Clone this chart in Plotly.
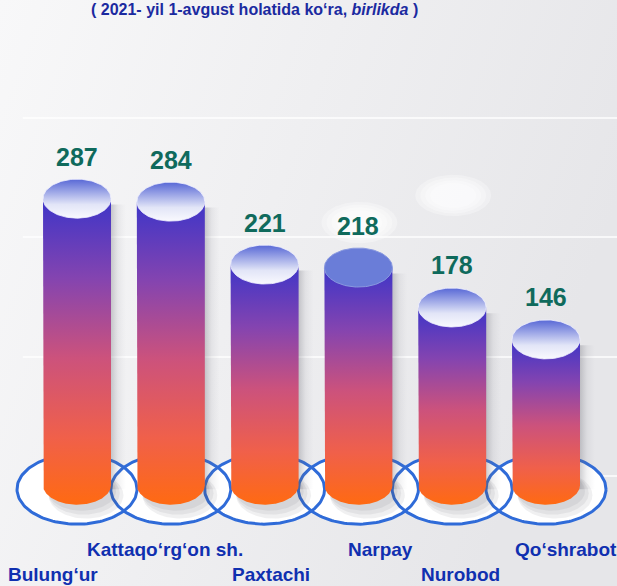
import base64
import numpy as np
import plotly.graph_objects as go

# ---- data -------------------------------------------------------------
districts = ["Bulung‘ur", "Kattaqo‘rg‘on sh.", "Paxtachi", "Narpay", "Nurobod", "Qo‘shrabot"]
counts = [287, 284, 221, 218, 178, 146]
subtitle = "( 2021- yil 1-avgust holatida ko‘ra, <i>birlikda</i> )"

# ---- canvas / scale ---------------------------------------------------
W, H = 617, 586
X_RANGE = (-0.821, 5.757)
Y_RANGE = (-101.0, 486.0)
UX = W / (X_RANGE[1] - X_RANGE[0])   # pixels per category step
UY = H / (Y_RANGE[1] - Y_RANGE[0])   # pixels per unit on the value axis


def dx(p):
    return p / UX


def dy(p):
    return p / UY


BODY_RX = dx(34)
CAP_RY = dy(19.5)
BASE_RX = dx(60)
BASE_RY = dy(35)

FONT = "Liberation Sans Narrow, Arial Narrow, Liberation Sans, Arial, sans-serif"
BODY_SCALE = [[0.0, "#ff6a12"], [0.22, "#f0604a"], [0.48, "#cc527c"],
              [0.74, "#8444b0"], [1.0, "#3d35c8"]]
CAP_SCALE = [[0.0, "#f9f9fe"], [0.35, "#e2e5f7"], [1.0, "#5868d6"]]
HIGHLIGHT = "Narpay"
HIGHLIGHT_CAP = "#6a7dd8"
RING_COLOR = "#2f6bd8"
VALUE_COLOR = "#0f6a5c"
LABEL_COLOR = "#1030b0"
TITLE_COLOR = "#1b2aa0"

# staggered category labels: row (0 = upper, 1 = lower) and small horizontal nudges
label_row = [1, 0, 1, 0, 1, 0]
label_dx = [-24, -6, 6, 22, 8, 20]


def ellipse(cx, cy, rx, ry, t0=0.0, t1=2 * np.pi, n=140):
    t = np.linspace(t0, t1, n)
    return cx + rx * np.cos(t), cy + ry * np.sin(t)


fig = go.Figure()

# faint white glows in the background
for i, lift in [(3, 45), (4, 112)]:
    for s in [1.15, 1.0, 0.85, 0.7]:
        gx, gy = ellipse(i + dx(1), counts[i] + dy(lift), dx(33) * s, dy(18) * s)
        fig.add_trace(go.Scatter(x=gx, y=gy, mode="lines", fill="toself",
                                 fillcolor="rgba(255,255,255,0.3)",
                                 line=dict(width=0), hoverinfo="skip"))

# base rings: white fills first, outlines on top so crossings stay visible
base_y = -dy(4)
for i, _ in enumerate(districts):
    ex, ey = ellipse(i, base_y, BASE_RX, BASE_RY)
    fig.add_trace(go.Scatter(x=ex, y=ey, mode="lines", fill="toself",
                             fillcolor="white", line=dict(width=0),
                             hoverinfo="skip"))
for i, _ in enumerate(districts):
    ex, ey = ellipse(i, base_y, BASE_RX, BASE_RY)
    fig.add_trace(go.Scatter(x=ex, y=ey, mode="lines",
                             line=dict(color=RING_COLOR, width=3),
                             hoverinfo="skip"))

# soft shadows behind each cylinder
for i, v in enumerate(counts):
    for k in range(3):
        sx, sy = ellipse(i + dx(5 + 2 * k), -dy(6 + 2 * k),
                         BODY_RX * (1.0 + 0.05 * k), CAP_RY * (1.0 + 0.1 * k))
        fig.add_trace(go.Scatter(x=sx, y=sy, mode="lines", fill="toself",
                                 fillcolor="rgba(90,90,100,0.09)",
                                 line=dict(width=0), hoverinfo="skip"))
    x0 = i + BODY_RX - dx(1)
    x1 = i + BODY_RX + dx(15)
    fig.add_trace(go.Scatter(
        x=[x0, x1, x1, x0, x0], y=[-dy(4), -dy(4), v - CAP_RY * 0.3, v - CAP_RY * 0.3, -dy(4)],
        mode="lines", fill="toself", line=dict(width=0), hoverinfo="skip",
        fillgradient=dict(type="horizontal", start=x0, stop=x1,
                          colorscale=[[0, "rgba(95,95,105,0.34)"],
                                      [0.5, "rgba(120,120,130,0.10)"],
                                      [1, "rgba(150,150,160,0)"]])))

# cylinder bodies
for i, v in enumerate(counts):
    bx, by = ellipse(i, 0, BODY_RX, CAP_RY, np.pi, 2 * np.pi)
    px = np.concatenate([[i - BODY_RX], bx, [i + BODY_RX, i - BODY_RX]])
    py = np.concatenate([[v], by, [v, v]])
    fig.add_trace(go.Scatter(
        x=px, y=py, mode="lines", fill="toself", line=dict(width=0),
        hoverinfo="skip",
        fillgradient=dict(type="vertical", start=-CAP_RY, stop=v,
                          colorscale=BODY_SCALE)))

# cylinder caps
for i, (name, v) in enumerate(zip(districts, counts)):
    cx, cy = ellipse(i, v, BODY_RX, CAP_RY)
    if name == HIGHLIGHT:
        fig.add_trace(go.Scatter(x=cx, y=cy, mode="lines", fill="toself",
                                 fillcolor=HIGHLIGHT_CAP,
                                 line=dict(width=1, color="#8a9ae0"),
                                 hoverinfo="skip"))
    else:
        fig.add_trace(go.Scatter(
            x=cx, y=cy, mode="lines", fill="toself",
            line=dict(width=1, color="rgba(240,240,255,0.8)"), hoverinfo="skip",
            fillgradient=dict(type="vertical", start=v - CAP_RY, stop=v + CAP_RY,
                              colorscale=CAP_SCALE)))

annotations = []
# value labels above each cap
for i, v in enumerate(counts):
    annotations.append(dict(
        x=i, y=v, xref="x", yref="y", yshift=42, text=f"<b>{v}</b>",
        showarrow=False, yanchor="middle",
        font=dict(family=FONT, size=25, color=VALUE_COLOR)))

# category labels in two staggered rows
row_px = [549, 574]
for i, name in enumerate(districts):
    annotations.append(dict(
        x=i, y=1 - row_px[label_row[i]] / H, xref="x", yref="paper",
        xshift=label_dx[i], text=f"<b>{name}</b>", showarrow=False,
        yanchor="middle", font=dict(family=FONT, size=19, color=LABEL_COLOR)))

# subtitle at the top edge
annotations.append(dict(
    x=254 / W, y=1, xref="paper", yref="paper", text=f"<b>{subtitle}</b>",
    showarrow=False, yanchor="top", xanchor="center", borderpad=0,
    font=dict(family=FONT, size=16, color=TITLE_COLOR)))

# light horizontal guide lines
shapes = []
for ypx in [118, 237, 357, 476]:
    shapes.append(dict(type="line", xref="paper", yref="paper",
                       x0=0.037, x1=1, y0=1 - ypx / H, y1=1 - ypx / H,
                       line=dict(color="rgba(255,255,255,0.95)", width=1.5),
                       layer="below"))

# background gradient
svg = (f'<svg xmlns="http://www.w3.org/2000/svg" width="{W}" height="{H}">'
       '<defs><linearGradient id="g" x1="0" y1="0" x2="1" y2="0.35">'
       '<stop offset="0" stop-color="#f8f8f9"/><stop offset="1" stop-color="#e6e6e9"/>'
       '</linearGradient></defs><rect width="100%" height="100%" fill="url(#g)"/></svg>')
bg_src = "data:image/svg+xml;base64," + base64.b64encode(svg.encode()).decode()

fig.update_layout(
    width=W, height=H, margin=dict(l=0, r=0, t=0, b=0),
    paper_bgcolor="#efeff1", plot_bgcolor="rgba(0,0,0,0)",
    showlegend=False,
    xaxis=dict(range=list(X_RANGE), visible=False, fixedrange=True),
    yaxis=dict(range=list(Y_RANGE), visible=False, fixedrange=True),
    annotations=annotations, shapes=shapes,
    images=[dict(source=bg_src, xref="paper", yref="paper", x=0, y=1,
                 sizex=1, sizey=1, sizing="stretch", layer="below",
                 xanchor="left", yanchor="top")],
)

fig.write_html("out.html", config={"displayModeBar": False})
